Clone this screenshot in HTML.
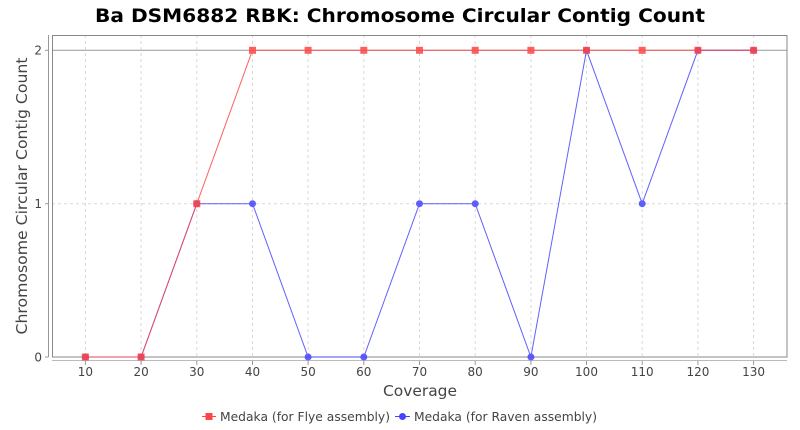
<!DOCTYPE html>
<html><head><meta charset="utf-8"><style>
html,body{margin:0;padding:0;background:#fff;}
svg{display:block;font-family:"DejaVu Sans","Liberation Sans",sans-serif;}
</style></head><body>
<svg width="800" height="430" viewBox="0 0 800 430" xmlns="http://www.w3.org/2000/svg">
<rect width="800" height="430" fill="#fff"/>
<text x="400" y="22" text-anchor="middle" font-size="19" font-weight="bold" fill="#000" textLength="610" lengthAdjust="spacingAndGlyphs">Ba DSM6882 RBK: Chromosome Circular Contig Count</text>
<!-- plot area -->
<rect x="52" y="35" width="735" height="322" fill="#fff"/>
<g stroke="#d8d8d8" stroke-width="1" stroke-dasharray="3,3">
<line x1="85.4" y1="35" x2="85.4" y2="357"/>
<line x1="141.1" y1="35" x2="141.1" y2="357"/>
<line x1="196.8" y1="35" x2="196.8" y2="357"/>
<line x1="252.5" y1="35" x2="252.5" y2="357"/>
<line x1="308.1" y1="35" x2="308.1" y2="357"/>
<line x1="363.8" y1="35" x2="363.8" y2="357"/>
<line x1="419.5" y1="35" x2="419.5" y2="357"/>
<line x1="475.2" y1="35" x2="475.2" y2="357"/>
<line x1="530.9" y1="35" x2="530.9" y2="357"/>
<line x1="586.5" y1="35" x2="586.5" y2="357"/>
<line x1="642.2" y1="35" x2="642.2" y2="357"/>
<line x1="697.9" y1="35" x2="697.9" y2="357"/>
<line x1="753.6" y1="35" x2="753.6" y2="357"/>
<line x1="52" y1="203.7" x2="787" y2="203.7"/>
</g>
<line x1="52" y1="50.3" x2="787" y2="50.3" stroke="#999" stroke-width="1"/>
<rect x="52.5" y="35.5" width="734.5" height="321.5" fill="none" stroke="#888" stroke-width="1"/>
<!-- axes -->
<line x1="48.5" y1="35" x2="48.5" y2="357" stroke="#999" stroke-width="1"/>
<line x1="52" y1="360.5" x2="787" y2="360.5" stroke="#bbb" stroke-width="1"/>
<g stroke="#999" stroke-width="1">
<line x1="45" y1="50.3" x2="48.5" y2="50.3"/>
<line x1="45" y1="203.7" x2="48.5" y2="203.7"/>
<line x1="45" y1="357" x2="48.5" y2="357"/>
<line x1="85.4" y1="361" x2="85.4" y2="365"/>
<line x1="141.1" y1="361" x2="141.1" y2="365"/>
<line x1="196.8" y1="361" x2="196.8" y2="365"/>
<line x1="252.5" y1="361" x2="252.5" y2="365"/>
<line x1="308.1" y1="361" x2="308.1" y2="365"/>
<line x1="363.8" y1="361" x2="363.8" y2="365"/>
<line x1="419.5" y1="361" x2="419.5" y2="365"/>
<line x1="475.2" y1="361" x2="475.2" y2="365"/>
<line x1="530.9" y1="361" x2="530.9" y2="365"/>
<line x1="586.5" y1="361" x2="586.5" y2="365"/>
<line x1="642.2" y1="361" x2="642.2" y2="365"/>
<line x1="697.9" y1="361" x2="697.9" y2="365"/>
<line x1="753.6" y1="361" x2="753.6" y2="365"/>
</g>
<g font-size="12" fill="#444" text-anchor="end">
<text x="42" y="54.5">2</text>
<text x="42" y="208">1</text>
<text x="42" y="361.5">0</text>
</g>
<g font-size="12" fill="#444" text-anchor="middle">
<text x="85.4" y="376">10</text>
<text x="141.1" y="376">20</text>
<text x="196.8" y="376">30</text>
<text x="252.5" y="376">40</text>
<text x="308.1" y="376">50</text>
<text x="363.8" y="376">60</text>
<text x="419.5" y="376">70</text>
<text x="475.2" y="376">80</text>
<text x="530.9" y="376">90</text>
<text x="586.5" y="376">100</text>
<text x="642.2" y="376">110</text>
<text x="697.9" y="376">120</text>
<text x="753.6" y="376">130</text>
</g>
<text x="420" y="396" text-anchor="middle" font-size="15" fill="#444" textLength="74" lengthAdjust="spacingAndGlyphs">Coverage</text>
<text transform="translate(27,196) rotate(-90)" text-anchor="middle" font-size="15" fill="#444" textLength="277" lengthAdjust="spacingAndGlyphs">Chromosome Circular Contig Count</text>
<!-- blue series -->
<g opacity="0.85">
<polyline fill="none" stroke="#4444ff" stroke-width="1" points="85.4,357 141.1,357 196.8,203.7 252.5,203.7 308.1,357 363.8,357 419.5,203.7 475.2,203.7 530.9,357 586.5,50.3 642.2,203.7 697.9,50.3 753.6,50.3"/>
<g fill="#4444ff">
<circle cx="85.4" cy="357" r="3.5"/><circle cx="141.1" cy="357" r="3.5"/><circle cx="196.8" cy="203.7" r="3.5"/><circle cx="252.5" cy="203.7" r="3.5"/><circle cx="308.1" cy="357" r="3.5"/><circle cx="363.8" cy="357" r="3.5"/><circle cx="419.5" cy="203.7" r="3.5"/><circle cx="475.2" cy="203.7" r="3.5"/><circle cx="530.9" cy="357" r="3.5"/><circle cx="586.5" cy="50.3" r="3.5"/><circle cx="642.2" cy="203.7" r="3.5"/><circle cx="697.9" cy="50.3" r="3.5"/><circle cx="753.6" cy="50.3" r="3.5"/>
</g>
</g>
<!-- red series -->
<g opacity="0.85">
<polyline fill="none" stroke="#ff4444" stroke-width="1" points="85.4,357 141.1,357 196.8,203.7 252.5,50.3 308.1,50.3 363.8,50.3 419.5,50.3 475.2,50.3 530.9,50.3 586.5,50.3 642.2,50.3 697.9,50.3 753.6,50.3"/>
<g fill="#ff4444">
<rect x="81.9" y="353.5" width="7" height="7"/><rect x="137.6" y="353.5" width="7" height="7"/><rect x="193.3" y="200.2" width="7" height="7"/><rect x="249" y="46.8" width="7" height="7"/><rect x="304.6" y="46.8" width="7" height="7"/><rect x="360.3" y="46.8" width="7" height="7"/><rect x="416" y="46.8" width="7" height="7"/><rect x="471.7" y="46.8" width="7" height="7"/><rect x="527.4" y="46.8" width="7" height="7"/><rect x="583" y="46.8" width="7" height="7"/><rect x="638.7" y="46.8" width="7" height="7"/><rect x="694.4" y="46.8" width="7" height="7"/><rect x="750.1" y="46.8" width="7" height="7"/>
</g>
</g>
<!-- legend -->
<line x1="202" y1="416.5" x2="216" y2="416.5" stroke="#ff4444" stroke-width="1"/>
<rect x="205.5" y="413" width="7" height="7" fill="#ff4444"/>
<text x="220" y="421" font-size="12.5" fill="#444" textLength="170" lengthAdjust="spacingAndGlyphs">Medaka (for Flye assembly)</text>
<line x1="395" y1="416.5" x2="410" y2="416.5" stroke="#4444ff" stroke-width="1"/>
<circle cx="402.5" cy="416.5" r="3.5" fill="#4444ff"/>
<text x="414" y="421" font-size="12.5" fill="#444" textLength="183" lengthAdjust="spacingAndGlyphs">Medaka (for Raven assembly)</text>
</svg>
</body></html>
